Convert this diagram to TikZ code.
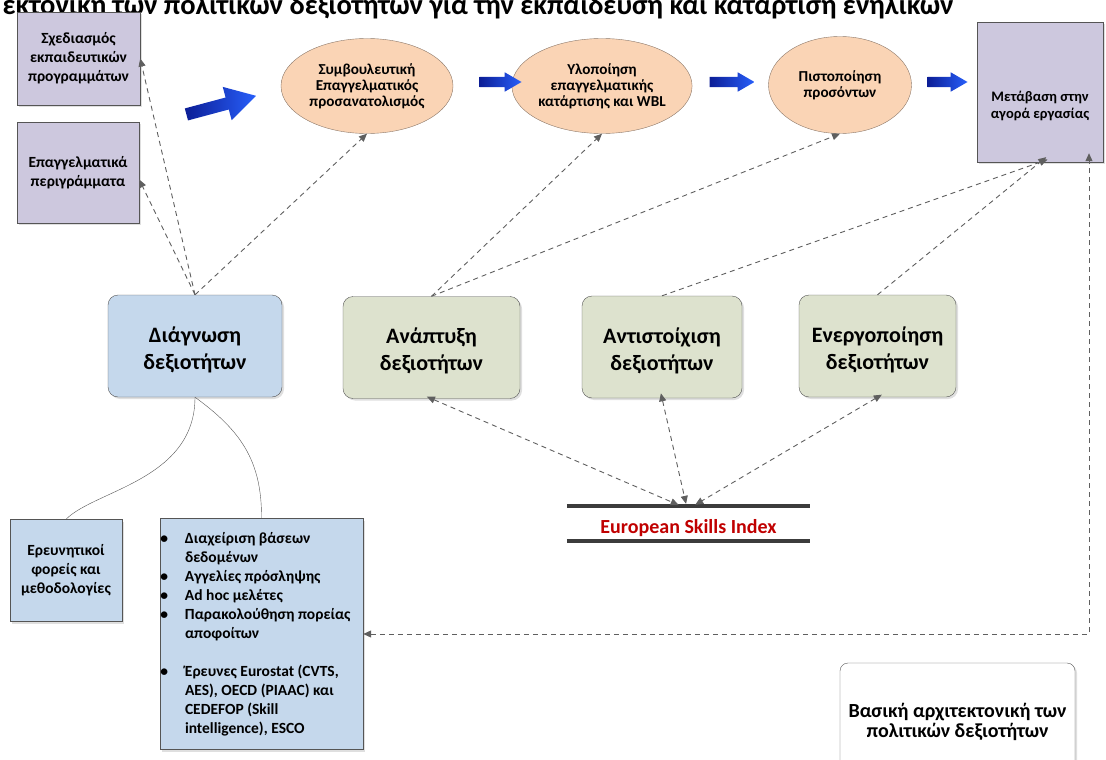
\documentclass[tikz,border=0pt]{standalone}
\usepackage{fontspec}
\setmainfont{Carlito}
\usetikzlibrary{shapes.geometric,shapes.arrows,arrows.meta,shadows}

\definecolor{lilac}{RGB}{205,200,222}
\definecolor{peach}{RGB}{250,212,181}
\definecolor{paleblue}{RGB}{197,216,236}
\definecolor{palegreen}{RGB}{221,226,206}
\definecolor{edge}{RGB}{85,85,85}
\definecolor{ovaledge}{RGB}{140,120,105}
\definecolor{linkgray}{RGB}{95,95,95}
\definecolor{esired}{RGB}{192,0,0}
\definecolor{navy}{RGB}{12,30,150}
\definecolor{brightblue}{RGB}{40,95,250}

\begin{document}
\begin{tikzpicture}[x=1pt, y=-1pt, align=center,
	shade/.style = {drop shadow={opacity=0.25, shadow xshift=2pt, shadow yshift=-2pt}},
	prog/.style = {draw=edge, fill=lilac, shade, font=\fontsize{15.5}{19}\selectfont\bfseries},
	stage/.style = {ellipse, draw=ovaledge, fill=peach, inner sep=0pt, font=\fontsize{15.2}{16}\selectfont\bfseries},
	skill/.style = {draw=edge, rounded corners=10pt, shade, minimum width=160, minimum height=102, text height=51.5pt, text depth=5.3pt, font=\fontsize{22}{27}\selectfont\bfseries},
	source/.style = {draw=edge, fill=paleblue, shade, font=\fontsize{15.5}{19}\selectfont\bfseries},
	push/.style = {single arrow, left color=navy, right color=brightblue, inner xsep=0pt, single arrow tip angle=60},
	link/.style = {draw=linkgray, line width=0.9pt, dash pattern=on 5pt off 4pt, -{Triangle[length=8pt, width=7pt]}},
	both/.style = {link, {Triangle[length=8pt, width=7pt]}-{Triangle[length=8pt, width=7pt]}}]
	\useasboundingbox (0,0) rectangle (1106,760);
	\clip (0,0) rectangle (1106,760);

	\node[anchor=base west, font=\fontsize{28.5}{32}\selectfont\bfseries] (title) at (-1,14.5) {εκτονική των πολιτικών δεξιοτήτων για την εκπαίδευση και κατάρτιση ενηλίκων};

	% top row
	\node[prog, minimum width=123, minimum height=93] (plan) at (78.5,58.5) {Σχεδιασμός\\εκπαιδευτικών\\προγραμμάτων};
	\node[prog, minimum width=122, minimum height=101] (prof) at (78,172.5) {Επαγγελματικά\\περιγράμματα};
	\node[stage, minimum width=172, minimum height=95] (guide) at (367,86) {Συμβουλευτική\\Επαγγελματικός\\προσανατολισμός};
	\node[stage, minimum width=149, minimum height=95] (train) at (602,86) {Υλοποίηση\\επαγγελματικής\\κατάρτισης και WBL};
	\node[stage, minimum width=143, minimum height=97] (cert) at (840,85) {Πιστοποίηση\\προσόντων};
	\node[prog, minimum width=126, minimum height=140, text height=56pt, font=\fontsize{14.5}{17}\selectfont\bfseries] (market) at (1040,92) {Μετάβαση στην\\αγορά εργασίας};

	\node[push, rotate=15, minimum height=72, inner ysep=6pt, single arrow head extend=11pt] (a0) at (216,106.5) {};
	\node[push, minimum height=42, inner ysep=5pt, single arrow head extend=4.5pt] (a1) at (496,82) {};
	\node[push, minimum height=45, inner ysep=5pt, single arrow head extend=4.5pt] (a2) at (727.5,82) {};
	\node[push, minimum height=40, inner ysep=5pt, single arrow head extend=4.5pt] (a3) at (943,82) {};

	% middle row
	\node[skill, fill=paleblue, minimum width=174] (diag) at (195,346) {Διάγνωση\\δεξιοτήτων};
	\node[skill, fill=palegreen, minimum width=177] (dev) at (431.5,347.5) {Ανάπτυξη\\δεξιοτήτων};
	\node[skill, fill=palegreen] (match) at (662,347) {Αντιστοίχιση\\δεξιοτήτων};
	\node[skill, fill=palegreen, minimum width=157] (act) at (877.5,346) {Ενεργοποίηση\\δεξιοτήτων};

	% bottom
	\node[source, minimum width=112, minimum height=102] (bodies) at (66,570.5) {Ερευνητικοί\\φορείς και\\μεθοδολογίες};
	\node[source, align=flush left, text width=199, inner xsep=2pt, minimum height=231] (tools) at (261.5,634) {\leftskip=23pt
		\leavevmode\llap{\textbullet\hspace{17pt}}Διαχείριση βάσεων\\
		δεδομένων\\
		\leavevmode\llap{\textbullet\hspace{17pt}}Αγγελίες πρόσληψης\\
		\leavevmode\llap{\textbullet\hspace{17pt}}Ad hoc μελέτες\\
		\leavevmode\llap{\textbullet\hspace{17pt}}Παρακολούθηση πορείας\\
		αποφοίτων\\[19pt]
		\leavevmode\llap{\textbullet\hspace{17pt}}Έρευνες Eurostat (CVTS,\\
		AES), OECD (PIAAC) και\\
		CEDEFOP (Skill\\
		intelligence), ESCO\par};
	\node[minimum width=243, minimum height=35, text height=23pt, text depth=4pt, text=esired, font=\fontsize{20}{22}\selectfont\bfseries] (esi) at (688.5,523.5) {European Skills Index};
	\draw[line width=4pt, draw={rgb,255:red,60;green,60;blue,60}] (esi.north west) -- (esi.north east) (esi.south west) -- (esi.south east);
	\node[draw=edge, fill=white, rounded corners=8pt, shade, minimum width=235, minimum height=118, font=\fontsize{20}{20}\selectfont\bfseries] (legend) at (957.5,722) {Βασική αρχιτεκτονική των\\πολιτικών δεξιοτήτων};

	% connectors
	\draw[link] (diag.north) -- (plan.east);
	\draw[link] (diag.north) -- ([yshift=-7pt]prof.east);
	\draw[link] (diag.north) -- (guide.south);
	\draw[link] (dev.north) -- (train.south);
	\draw[link] (dev.north) -- (cert.south);
	\draw[link, shorten >=-8pt] (match.north) -- (market.south);
	\draw[link, shorten >=-8pt] (act.north) -- (market.south);
	\coordinate (corner) at (1089,634);
	\draw[both, shorten >=-9pt] (tools.east) -- (corner) -- (corner |- market.south);
	\draw[both, shorten <=-5pt, shorten >=2pt] (dev.south) -- ([xshift=-8pt]esi.north);
	\draw[both, shorten <=-5pt, shorten >=2pt] (match.south) -- ([xshift=-2pt]esi.north);
	\draw[both, shorten <=-5pt, shorten >=2pt] (act.south) -- ([xshift=5pt]esi.north);
	\draw[edge] (diag.south) .. controls (195,480) and (95,490) .. (bodies.north);
	\draw[edge] (diag.south) .. controls (240,430) and (262,460) .. (tools.north);
\end{tikzpicture}
\end{document}
